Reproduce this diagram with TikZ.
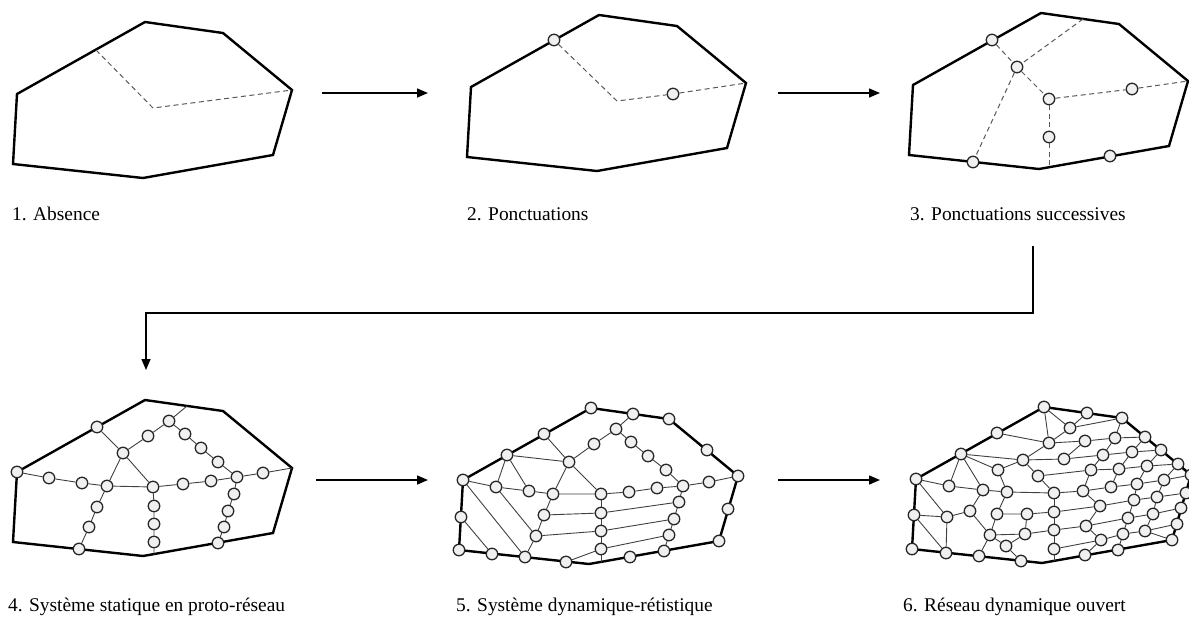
\documentclass[tikz,border=0pt]{standalone}
\usepackage{fontspec}
\setmainfont{Liberation Serif}
\usetikzlibrary{arrows.meta}

\tikzset{
  outline/.style={line width=2.4pt,line join=miter},
  probe/.style={dash pattern=on 5pt off 3.5pt,draw=black!65,line width=1pt},
  mesh/.style={draw=black!75,line width=0.9pt},
  site/.style={circle,draw=black!85,fill=black!6,line width=1.3pt,minimum size=11.5pt,inner sep=0pt},
  flow/.style={line width=1.5pt,-{Triangle[length=11pt,width=9pt]}},
  caption/.style={anchor=base west,inner sep=0pt,font=\fontsize{19.4}{23}\selectfont}
}

% the same territory in every step
\newcommand{\territory}{%
  \coordinate (A) at (145,22);
  \coordinate (B) at (223,33);
  \coordinate (C) at (292,90);
  \coordinate (D) at (273,155);
  \coordinate (E) at (143,178);
  \coordinate (F) at (13,164);
  \coordinate (G) at (17,94);
  \draw[outline] (A) -- (B) -- (C) -- (D) -- (E) -- (F) -- (G) -- cycle;}

\begin{document}
\begin{tikzpicture}[x=1pt,y=-1pt]
\useasboundingbox (0,0) rectangle (1189,619);

%1. Absence
\begin{scope}[name prefix=p1-]
\territory
\coordinate (q) at (96,50);
\coordinate (k) at (153,108);
\draw[probe] (q) -- (k) -- (C);
\end{scope}

%2. Ponctuations
\begin{scope}[shift={(454,-7)},name prefix=p2-]
\territory
\coordinate (k) at (163,108);
\node[site] (a) at (100,47) {};
\node[site] (b) at (219,101) {};
\draw[probe] (a) -- (k) -- (b) -- (C);
\end{scope}

%3. Ponctuations successives
\begin{scope}[shift={(896,-9)},name prefix=p3-]
\territory
\coordinate (top) at (187,28);
\coordinate (bot) at (153,176);
\node[site] (a) at (96,49) {};
\node[site] (b) at (121,76) {};
\node[site] (c) at (153,108) {};
\node[site] (d) at (236,98) {};
\node[site] (e) at (153,146) {};
\node[site] (f) at (214,165) {};
\node[site] (g) at (77,171) {};
\draw[probe] (a) -- (b) -- (c) -- (d) -- (C);
\draw[probe] (top) -- (b) -- (g);
\draw[probe] (c) -- (e) -- (bot);
\end{scope}

%4. proto-reseau
\begin{scope}[shift={(0,378)},name prefix=p4-]
\territory
\coordinate (t) at (187,28);
\coordinate (eb) at (154,176);
\node[site] (vG) at (G) {};
\node[site] (n2) at (49,100) {};
\node[site] (n3) at (82,105) {};
\node[site] (n4) at (107,108) {};
\node[site] (n5) at (153,109) {};
\node[site] (n6) at (183,106) {};
\node[site] (n7) at (211,103) {};
\node[site] (n8) at (237,99) {};
\node[site] (n9) at (263,95) {};
\node[site] (m1) at (97,49) {};
\node[site] (m2) at (123,75) {};
\node[site] (m3) at (148,58) {};
\node[site] (m4) at (169,43) {};
\node[site] (k1) at (185,56) {};
\node[site] (k2) at (201,70) {};
\node[site] (k3) at (218,84) {};
\node[site] (d1) at (97,129) {};
\node[site] (d2) at (89,149) {};
\node[site] (d3) at (79,171) {};
\node[site] (e1) at (154,128) {};
\node[site] (e2) at (154,146) {};
\node[site] (e3) at (154,164) {};
\node[site] (f1) at (234,116) {};
\node[site] (f2) at (228,133) {};
\node[site] (f3) at (224,149) {};
\node[site] (f4) at (218,165) {};
\draw[mesh] (vG) -- (n2) -- (n3) -- (n4) -- (n5) -- (n6) -- (n7) -- (n8) -- (n9) -- (C);
\draw[mesh] (m1) -- (m2) -- (n5);
\draw[mesh] (m2) -- (n4);
\draw[mesh] (m2) -- (m3) -- (m4) -- (t);
\draw[mesh] (m4) -- (k1) -- (k2) -- (k3) -- (n8);
\draw[mesh] (n4) -- (d1) -- (d2) -- (d3);
\draw[mesh] (n5) -- (e1) -- (e2) -- (e3) -- (eb);
\draw[mesh] (n8) -- (f1) -- (f2) -- (f3) -- (f4);
\end{scope}

%5. dynamique-retistique
\begin{scope}[shift={(446,386)},name prefix=p5-]
\territory
\coordinate (bt) at (155,176);
\node[site] (vA) at (A) {};
\node[site] (b2) at (187,28) {};
\node[site] (vB) at (B) {};
\node[site] (b4) at (261,64) {};
\node[site] (vC) at (C) {};
\node[site] (b6) at (282,123) {};
\node[site] (vD) at (D) {};
\node[site] (b8) at (218,165) {};
\node[site] (b9) at (184,171) {};
\node[site] (b10) at (120,176) {};
\node[site] (b11) at (79,171) {};
\node[site] (b12) at (46,168) {};
\node[site] (vF) at (F) {};
\node[site] (b14) at (15,131) {};
\node[site] (vG) at (G) {};
\node[site] (b16) at (61,69) {};
\node[site] (b17) at (98,48) {};
\node[site] (i1) at (123,76) {};
\node[site] (i2) at (148,58) {};
\node[site] (i3) at (170,43) {};
\node[site] (i4) at (185,56) {};
\node[site] (i5) at (202,70) {};
\node[site] (i6) at (220,84) {};
\node[site] (i7) at (237,100) {};
\node[site] (i8) at (263,96) {};
\node[site] (i9) at (211,102) {};
\node[site] (i10) at (183,106) {};
\node[site] (i11) at (155,108) {};
\node[site] (i12) at (107,108) {};
\node[site] (i13) at (83,105) {};
\node[site] (i14) at (50,101) {};
\node[site] (i15) at (233,116) {};
\node[site] (i16) at (228,133) {};
\node[site] (i17) at (223,149) {};
\node[site] (i18) at (155,127) {};
\node[site] (i19) at (155,145) {};
\node[site] (i20) at (155,163) {};
\node[site] (i21) at (98,129) {};
\node[site] (i22) at (90,150) {};
\draw[mesh] (b2) -- (i3) -- (i2) -- (i1) -- (b17);
\draw[mesh] (i3) -- (i4) -- (i5) -- (i6) -- (i7);
\draw[mesh] (b16) -- (i1) -- (i12);
\draw[mesh] (i1) -- (i11);
\draw[mesh] (vG) -- (i14) -- (i13) -- (i12) -- (i11) -- (i10) -- (i9) -- (i7) -- (i8) -- (vC);
\draw[mesh] (i11) -- (i18) -- (i19) -- (i20) -- (bt);
\draw[mesh] (i7) -- (i15) -- (i16) -- (i17) -- (b8);
\draw[mesh] (i21) -- (i18) -- (i15);
\draw[mesh] (i22) -- (i19) -- (i16);
\draw[mesh] (b10) -- (i20) -- (i17);
\draw[mesh] (i12) -- (i21) -- (i22) -- (b11);
\draw[mesh] (b16) -- (i14);
\draw[mesh] (b16) -- (i13);
\draw[mesh] (i14) -- (i22);
\draw[mesh] (vG) -- (b11);
\draw[mesh] (b14) -- (b12);
\end{scope}

%6. reseau dynamique ouvert
\begin{scope}[shift={(899,385)},name prefix=p6-]
\territory
\coordinate (bt) at (155,176);
\node[site] (vA) at (A) {};
\node[site] (r1) at (188,28) {};
\node[site] (vB) at (B) {};
\node[site] (r2) at (246,52) {};
\node[site] (r3) at (262,65) {};
\node[site] (r4) at (279,79) {};
\node[site] (vC) at (C) {};
\node[site] (r5) at (287,108) {};
\node[site] (r6) at (282,123) {};
\node[site] (r7) at (278,139) {};
\node[site] (vD) at (D) {};
\node[site] (r8) at (219,165) {};
\node[site] (r9) at (186,170) {};
\node[site] (r10) at (122,176) {};
\node[site] (r11) at (80,171) {};
\node[site] (r12) at (47,168) {};
\node[site] (vF) at (F) {};
\node[site] (r13) at (15,130) {};
\node[site] (vG) at (G) {};
\node[site] (r14) at (62,69) {};
\node[site] (r15) at (98,48) {};
\node[site] (s1) at (171,43) {};
\node[site] (s2) at (150,58) {};
\node[site] (s3) at (124,75) {};
\node[site] (s4) at (99,85) {};
\node[site] (s5) at (139,91) {};
\node[site] (s6) at (155,108) {};
\node[site] (s7) at (108,107) {};
\node[site] (s8) at (84,105) {};
\node[site] (s9) at (50,101) {};
\node[site] (s10) at (71,126) {};
\node[site] (s11) at (48,132) {};
\node[site] (s12) at (98,129) {};
\node[site] (s13) at (128,129) {};
\node[site] (s14) at (155,127) {};
\node[site] (s15) at (91,150) {};
\node[site] (s16) at (126,149) {};
\node[site] (s17) at (155,145) {};
\node[site] (s18) at (107,161) {};
\node[site] (s19) at (155,164) {};
\node[site] (s20) at (186,56) {};
\node[site] (s21) at (216,53) {};
\node[site] (s22) at (165,74) {};
\node[site] (s23) at (204,70) {};
\node[site] (s24) at (233,67) {};
\node[site] (s25) at (192,85) {};
\node[site] (s26) at (220,84) {};
\node[site] (s27) at (248,81) {};
\node[site] (s28) at (184,106) {};
\node[site] (s29) at (212,102) {};
\node[site] (s30) at (238,99) {};
\node[site] (s31) at (265,95) {};
\node[site] (s32) at (201,121) {};
\node[site] (s33) at (235,115) {};
\node[site] (s34) at (258,112) {};
\node[site] (s35) at (187,141) {};
\node[site] (s36) at (229,133) {};
\node[site] (s37) at (254,129) {};
\node[site] (s38) at (202,155) {};
\node[site] (s39) at (224,149) {};
\node[site] (s40) at (246,146) {};
\draw[mesh] (vA) -- (s1) -- (r1);
\draw[mesh] (s1) -- (vB);
\draw[mesh] (vA) -- (s2) -- (s1);
\draw[mesh] (r15) -- (s2) -- (s20) -- (s21) -- (r2);
\draw[mesh] (s21) -- (vB);
\draw[mesh] (r14) -- (s3) -- (s2);
\draw[mesh] (s3) -- (s22) -- (s23) -- (s24) -- (r3);
\draw[mesh] (s3) -- (s5) -- (s6);
\draw[mesh] (s5) -- (s25) -- (s26) -- (s27) -- (r4);
\draw[mesh] (s7) -- (s6) -- (s28) -- (s29) -- (s30) -- (s31) -- (vC);
\draw[mesh] (s14) -- (s32) -- (s33) -- (s34) -- (r5);
\draw[mesh] (s17) -- (s35) -- (s36) -- (s37) -- (r6);
\draw[mesh] (s19) -- (s38) -- (s39) -- (s40) -- (r7);
\draw[mesh] (s6) -- (s14) -- (s17) -- (s19) -- (bt);
\draw[mesh] (s20) -- (s22);
\draw[mesh] (s21) -- (s23) -- (s25) -- (s28) -- (s32) -- (s35) -- (s38) -- (r9);
\draw[mesh] (r2) -- (s24) -- (s26) -- (s29);
\draw[mesh] (r3) -- (s27) -- (s30) -- (s33) -- (s36) -- (s39) -- (r8);
\draw[mesh] (r4) -- (s31) -- (s34) -- (s37) -- (s40) -- (vD);
\draw[mesh] (r14) -- (s4) -- (s3);
\draw[mesh] (r14) -- (s9);
\draw[mesh] (r14) -- (s8);
\draw[mesh] (vG) -- (s9) -- (s8) -- (s7);
\draw[mesh] (s4) -- (s7) -- (s12) -- (s13) -- (s14);
\draw[mesh] (s8) -- (s10) -- (s11) -- (r13);
\draw[mesh] (vG) -- (s11) -- (r12);
\draw[mesh] (r13) -- (r12);
\draw[mesh] (s10) -- (s15);
\draw[mesh] (s12) -- (s15) -- (s16) -- (s17);
\draw[mesh] (s13) -- (s16) -- (s18);
\draw[mesh] (s15) -- (s18) -- (r10);
\draw[mesh] (s15) -- (r11);
\end{scope}

% steps
\coordinate (o1) at (322,93);
\coordinate (o2) at (428,93);
\coordinate (o3) at (778,93);
\coordinate (o4) at (880,93);
\coordinate (o5) at (1033,246);
\coordinate (o6) at (146,313);
\coordinate (o7) at (146,370);
\coordinate (o8) at (316,480);
\coordinate (o9) at (428,480);
\coordinate (o10) at (778,480);
\coordinate (o11) at (880,480);
\draw[flow] (o1) -- (o2);
\draw[flow] (o3) -- (o4);
\draw[flow] (o5) |- (o6) -- (o7);
\draw[flow] (o8) -- (o9);
\draw[flow] (o10) -- (o11);

\node[caption] (l1) at (12,220) {1. Absence};
\node[caption] (l2) at (467,220) {2. Ponctuations};
\node[caption] (l3) at (910,220) {3. Ponctuations successives};
\node[caption] (l4) at (8,611) {4. Système statique en proto-réseau};
\node[caption] (l5) at (456,611) {5. Système dynamique-rétistique};
\node[caption] (l6) at (903,611) {6. Réseau dynamique ouvert};
\end{tikzpicture}
\end{document}
